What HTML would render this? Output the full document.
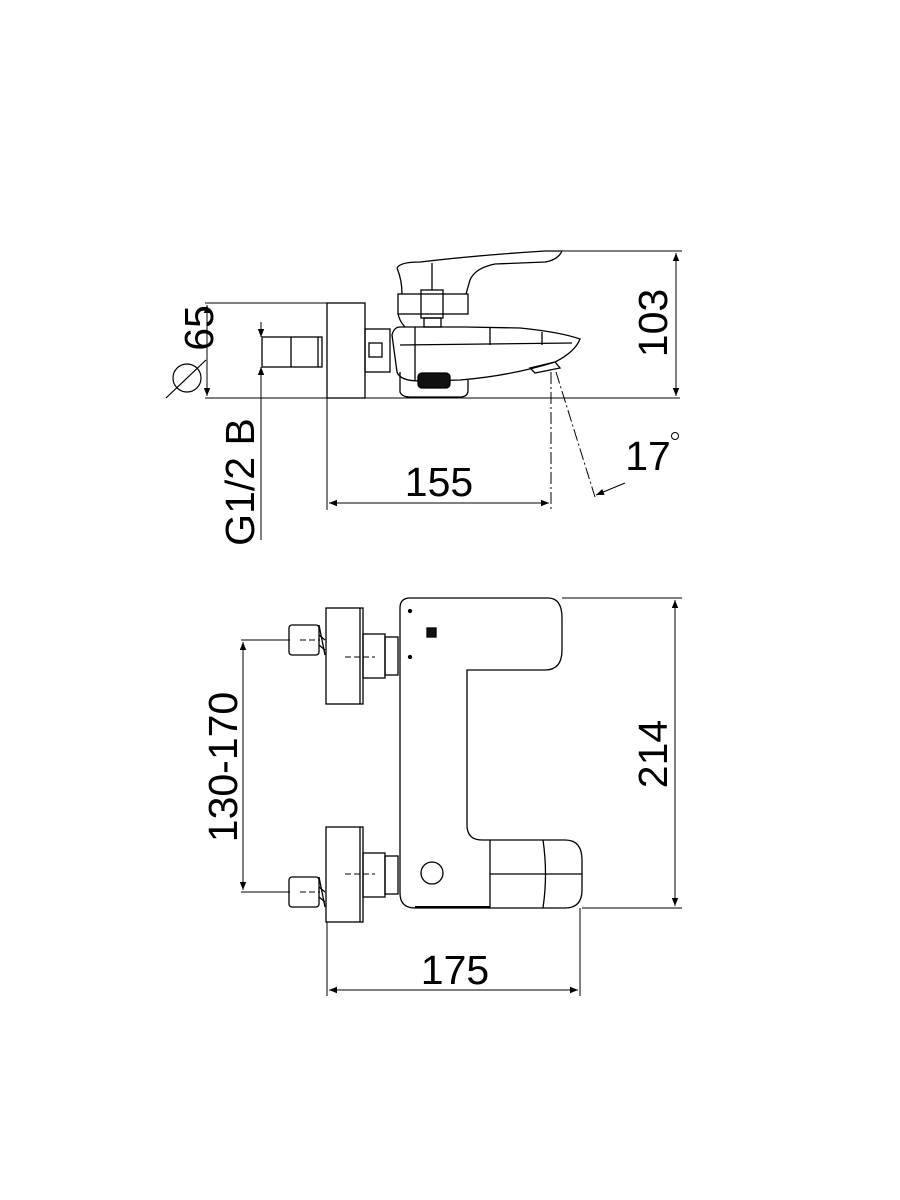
<!DOCTYPE html>
<html><head><meta charset="utf-8"><style>
html,body{margin:0;padding:0;background:#fff}
svg{display:block}
text{font-family:"Liberation Sans",sans-serif;fill:#000}
</style></head><body>
<svg width="900" height="1200" viewBox="0 0 900 1200" xmlns="http://www.w3.org/2000/svg">
<defs>
<marker id="a" viewBox="0 0 10 10" refX="10" refY="5" markerWidth="14" markerHeight="8" orient="auto-start-reverse" markerUnits="userSpaceOnUse"><path d="M0,1 L10,5 L0,9 z" fill="#000"/></marker>
</defs>
<g fill="none" stroke="#000" stroke-width="1.3">
<line x1="205" y1="303" x2="365" y2="303" stroke-width="1"/>
<line x1="205" y1="398" x2="680" y2="398" stroke-width="1"/>
<line x1="207" y1="305" x2="207" y2="396" stroke-width="1" marker-start="url(#a)" marker-end="url(#a)"/>
<circle cx="187" cy="378" r="14" stroke-width="1.2"/>
<line x1="166" y1="398" x2="206" y2="360" stroke-width="1.2"/>
<rect x="327" y="303" width="38" height="95"/>
<rect x="262" y="337" width="60" height="30"/>
<line x1="291" y1="337" x2="291" y2="367"/>
<line x1="318" y1="337" x2="318" y2="367"/>
<line x1="261" y1="322" x2="261" y2="337" stroke-width="1" marker-end="url(#a)"/>
<line x1="261" y1="540" x2="261" y2="367" stroke-width="1" marker-end="url(#a)"/>
<rect x="365" y="329" width="25" height="43"/>
<rect x="369" y="343" width="13" height="14"/>
<path d="M392,335 Q394,327 400,327 L465,327 L520,328 Q560,332 580,339 Q575,352 555,362 Q510,376 460,380 L420,381 Q400,381 397,372 Z"/>
<line x1="400" y1="345" x2="572" y2="343"/>
<line x1="415" y1="327" x2="415" y2="380"/>
<line x1="490" y1="328" x2="490" y2="345"/>
<line x1="542" y1="332" x2="542" y2="345"/>
<path d="M530,368 L555,362 L560,368 L535,373 Z"/>
<path d="M400,372 L400,392 Q402,397 410,397 L460,397 Q468,397 468,390 L468,380"/>
<rect x="418" y="373" width="32" height="15" rx="4" fill="#111"/>
<path d="M397,268 Q400,262 420,262 Q480,255 545,251 L562,251 Q558,260 545,262 L495,264 Q475,268 470,280 L466,294"/>
<path d="M397,268 Q402,280 402,294"/>
<line x1="432" y1="263" x2="432" y2="290"/>
<rect x="398" y="294" width="70" height="20"/>
<rect x="421" y="290" width="22" height="28"/>
<rect x="424" y="318" width="17" height="9"/>
<path d="M398,314 Q400,322 405,327"/>
<line x1="562" y1="251" x2="682" y2="251" stroke-width="1"/>
<line x1="676" y1="253" x2="676" y2="396" stroke-width="1" marker-start="url(#a)" marker-end="url(#a)"/>
<line x1="327" y1="398" x2="327" y2="510" stroke-width="1"/>
<line x1="551" y1="372" x2="551" y2="510" stroke-width="1" stroke-dasharray="12,3,2,3"/>
<line x1="329" y1="503" x2="549" y2="503" stroke-width="1" marker-start="url(#a)" marker-end="url(#a)"/>
<line x1="556" y1="372" x2="595" y2="497" stroke-width="1" stroke-dasharray="12,3,2,3"/>
<line x1="625" y1="483" x2="596" y2="495" stroke-width="1" marker-end="url(#a)"/>
<circle cx="675" cy="436" r="3.5" stroke-width="1"/>

<path d="M410,598 L548,598 Q562,598 562,618 L562,650 Q562,670 545,670 L467,670 L467,825 Q467,840 482,840 L565,840 Q582,840 582,860 L582,890 Q582,908 565,908 L415,908 Q400,908 400,893 L400,608 Q400,598 410,598 Z"/>
<line x1="490" y1="840" x2="490" y2="908"/>
<path d="M543,840 Q548,874 543,908"/>
<line x1="490" y1="874" x2="582" y2="874"/>
<line x1="415" y1="907" x2="490" y2="907" stroke-width="2"/>
<circle cx="432" cy="873" r="11"/>
<rect x="427" y="628" width="9" height="9" fill="#111"/>
<circle cx="410" cy="611" r="1.5" fill="#000"/>
<circle cx="410" cy="657" r="1.5" fill="#000"/>
<rect x="326" y="608" width="37" height="96"/>
<line x1="360" y1="608" x2="360" y2="704"/>
<rect x="363" y="634" width="22" height="44"/>
<rect x="385" y="637" width="13" height="38"/>
<rect x="289" y="625" width="30" height="30" rx="3"/>
<line x1="319" y1="625" x2="325" y2="655"/>
<line x1="319" y1="635" x2="325" y2="640"/>
<line x1="319" y1="645" x2="325" y2="650"/>
<line x1="345" y1="657" x2="375" y2="657" stroke-width="1" stroke-dasharray="6,3"/>
<line x1="300" y1="640" x2="320" y2="640" stroke-width="1" stroke-dasharray="6,3"/>
<rect x="326" y="827" width="37" height="95"/>
<line x1="360" y1="827" x2="360" y2="922"/>
<rect x="363" y="853" width="22" height="44"/>
<rect x="385" y="856" width="13" height="38"/>
<rect x="289" y="877" width="30" height="30" rx="3"/>
<line x1="319" y1="877" x2="325" y2="907"/>
<line x1="319" y1="887" x2="325" y2="892"/>
<line x1="319" y1="897" x2="325" y2="902"/>
<line x1="345" y1="874" x2="375" y2="874" stroke-width="1" stroke-dasharray="6,3"/>
<line x1="300" y1="892" x2="320" y2="892" stroke-width="1" stroke-dasharray="6,3"/>
<line x1="241" y1="640" x2="290" y2="640" stroke-width="1"/>
<line x1="241" y1="892" x2="290" y2="892" stroke-width="1"/>
<line x1="243" y1="642" x2="243" y2="890" stroke-width="1" marker-start="url(#a)" marker-end="url(#a)"/>
<line x1="562" y1="598" x2="682" y2="598" stroke-width="1"/>
<line x1="582" y1="908" x2="682" y2="908" stroke-width="1"/>
<line x1="675" y1="600" x2="675" y2="906" stroke-width="1" marker-start="url(#a)" marker-end="url(#a)"/>
<line x1="327" y1="922" x2="327" y2="996" stroke-width="1"/>
<line x1="580" y1="908" x2="580" y2="996" stroke-width="1"/>
<line x1="329" y1="990" x2="578" y2="990" stroke-width="1" marker-start="url(#a)" marker-end="url(#a)"/>
</g>
<g font-size="41">
<text x="0" y="0" transform="translate(213,328) rotate(-90)" text-anchor="middle">65</text>
<text x="0" y="0" transform="translate(667,323) rotate(-90)" text-anchor="middle">103</text>
<text x="0" y="0" transform="translate(254,482) rotate(-90)" text-anchor="middle">G1/2 B</text>
<text x="439" y="496" text-anchor="middle">155</text>
<text x="648" y="470" text-anchor="middle">17</text>
<text x="0" y="0" transform="translate(237,767) rotate(-90)" text-anchor="middle">130-170</text>
<text x="0" y="0" transform="translate(667,754) rotate(-90)" text-anchor="middle">214</text>
<text x="455" y="984" text-anchor="middle">175</text>
</g>
</svg>
</body></html>
